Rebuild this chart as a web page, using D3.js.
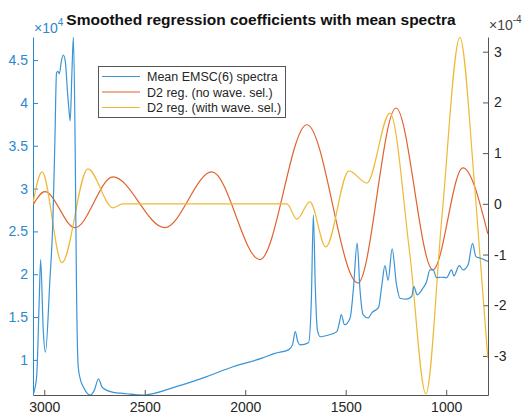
<!DOCTYPE html>
<html>
<head>
<meta charset="utf-8">
<script src="https://cdn.jsdelivr.net/npm/d3@7"></script>
<style>
  body { margin: 0; background: #fff; }
  svg { display: block; font-family: "Liberation Sans", Arial, sans-serif; }
</style>
</head>
<body>
<div id="chart"></div>
<script>
// wavenumber (cm-1), value x1e4 (left axis)
var meanSpectra = [
  [3056,0.59],[3038,0.80],[3025,1.70],[3018,2.17],[3005,1.35],[2994,1.09],[2972,1.93],[2957,2.63],
  [2947,3.57],[2939,4.35],[2932,4.37],[2925,4.34],[2914,4.50],[2905,4.56],[2895,4.48],[2885,4.15],
  [2877,3.92],[2871,3.79],[2862,4.38],[2855,4.77],[2846,3.45],[2840,1.93],[2831,0.92],[2820,0.77],
  [2806,0.685],[2788,0.615],[2770,0.59],[2750,0.65],[2730,0.78],[2713,0.685],[2693,0.65],[2640,0.615],
  [2609,0.61],[2574,0.60],[2509,0.59],[2340,0.69],[2191,0.805],[2061,0.92],[1917,1.02],[1852,1.076],
  [1783,1.12],[1765,1.175],[1751,1.33],[1738,1.21],[1726,1.175],[1685,1.20],[1671,1.70],[1661,2.69],
  [1651,1.82],[1641,1.35],[1627,1.27],[1585,1.29],[1544,1.33],[1531,1.44],[1522,1.53],[1506,1.41],
  [1478,1.49],[1462,1.82],[1443,2.365],[1429,1.82],[1413,1.525],[1388,1.49],[1370,1.55],[1337,1.61],
  [1320,1.875],[1305,2.10],[1289,1.93],[1269,2.295],[1247,1.875],[1230,1.72],[1197,1.71],[1172,1.74],
  [1161,1.855],[1144,1.76],[1115,1.84],[1098,1.91],[1081,2.05],[1065,2.05],[1048,1.96],[1023,1.965],
  [998,1.96],[973,2.05],[962,1.98],[935,2.10],[916,2.05],[891,2.11],[869,2.36],[852,2.205],
  [832,2.19],[793,2.15]
];

// regression coefficients x1e-4 (right axis)
var regNoSel = [
  [3056,-0.02],[2997,0.24],[2847,-0.47],[2658,0.53],[2400,-0.47],[2166,0.63],[1927,-1.10],
  [1693,1.56],[1439,-1.56],[1250,1.89],[1066,-1.30],[917,0.71],[793,-0.59]
];
var regWithSel = [
  [3056,0.02],[3011,0.63],[2912,-1.16],[2783,0.69],[2658,-0.08],[2609,0],[1793,0],[1743,-0.30],
  [1678,0.04],[1599,-0.85],[1484,0.65],[1395,0.41],[1280,1.79],[1181,-0.99],[1101,-3.75],
  [1021,-0.24],[932,3.28],[857,0.28],[793,-3.04]
];

var xTicks = [3000, 2500, 2000, 1500, 1000];
var yLeftTicks = [1, 1.5, 2, 2.5, 3, 3.5, 4, 4.5];
var yRightTicks = [-3, -2, -1, 0, 1, 2, 3];
var legendLabels = ["Mean EMSC(6) spectra", "D2 reg. (no wave. sel.)", "D2 reg. (with wave. sel.)"];
var chartTitle = "Smoothed regression coefficients with mean spectra";

(function () {
  var width = 524, height = 414;
  var plotL = 33, plotR = 488, plotT = 37, plotB = 395;
  var blueAxis = "#2a88cf", blue = "#3a94d6", red = "#E0632F", yellow = "#EEB934", axisGray = "#555";

  var svg = d3.select("#chart").append("svg")
      .attr("width", width)
      .attr("height", height);

  var x = d3.scaleLinear().domain([3056, 792]).range([plotL, plotR]);
  var yL = d3.scaleLinear().domain([0.59, 4.77]).range([plotB, plotT]);
  var yR = d3.scaleLinear().domain([-3.77, 3.29]).range([plotB, plotT]);

  svg.append("defs").append("clipPath").attr("id", "plotclip")
    .append("rect").attr("x", plotL).attr("y", plotT)
    .attr("width", plotR - plotL).attr("height", plotB - plotT);

  // title
  svg.append("text")
      .attr("x", 261).attr("y", 25)
      .attr("text-anchor", "middle")
      .style("font-size", "15.5px").style("font-weight", "bold").style("fill", "#111")
      .text(chartTitle);

  // axes
  var gx = svg.append("g").attr("transform", "translate(0," + plotB + ")")
      .call(d3.axisBottom(x).tickValues(xTicks).tickSizeInner(-5).tickSizeOuter(0).tickPadding(7)
        .tickFormat(function (d) { return String(d); }));
  var gl = svg.append("g").attr("transform", "translate(" + plotL + ",0)")
      .call(d3.axisLeft(yL).tickValues(yLeftTicks).tickSizeInner(-5).tickSizeOuter(0).tickPadding(5)
        .tickFormat(function (d) { return String(d); }));
  var gr = svg.append("g").attr("transform", "translate(" + plotR + ",0)")
      .call(d3.axisRight(yR).tickValues(yRightTicks).tickSizeInner(-5).tickSizeOuter(0).tickPadding(6)
        .tickFormat(function (d) { return String(d); }));

  [gx, gr].forEach(function (g) {
    g.selectAll("path, line").attr("stroke", axisGray);
    g.selectAll("text").attr("fill", "#262626").style("font-size", "14px");
  });
  gl.selectAll("path, line").attr("stroke", blueAxis);
  gl.selectAll("text").attr("fill", blueAxis).style("font-size", "14px");
  svg.selectAll("g").attr("font-family", null);

  // exponent labels
  var expL = svg.append("text").attr("x", 34).attr("y", 33).attr("fill", blueAxis).style("font-size", "14px");
  expL.append("tspan").text("\u00d710");
  expL.append("tspan").attr("dy", -7).style("font-size", "10px").text("4");

  var expR = svg.append("text").attr("x", 489).attr("y", 30).attr("fill", "#444").style("font-size", "14px");
  expR.append("tspan").text("\u00d710");
  expR.append("tspan").attr("dy", -7).style("font-size", "10px").text("-4");

  // lines
  var plot = svg.append("g").attr("clip-path", "url(#plotclip)");

  var lineR = d3.line()
      .x(function (d) { return x(d[0]); })
      .y(function (d) { return yR(d[1]); })
      .curve(d3.curveMonotoneX);
  var lineL = d3.line()
      .x(function (d) { return x(d[0]); })
      .y(function (d) { return yL(d[1]); })
      .curve(d3.curveMonotoneX);

  plot.append("path").datum(regNoSel).attr("d", lineR)
      .attr("fill", "none").attr("stroke", red).attr("stroke-width", 1.2);
  plot.append("path").datum(regWithSel).attr("d", lineR)
      .attr("fill", "none").attr("stroke", yellow).attr("stroke-width", 1.2);
  plot.append("path").datum(meanSpectra).attr("d", lineL)
      .attr("fill", "none").attr("stroke", blue).attr("stroke-width", 1.2);

  // legend
  var legend = svg.append("g");
  legend.append("rect")
      .attr("x", 98.5).attr("y", 66.5).attr("width", 187).attr("height", 51)
      .attr("fill", "#fff").attr("stroke", "#555").attr("stroke-width", 1);
  var legendColors = [blue, red, yellow];
  legendLabels.forEach(function (label, i) {
    var cy = 76.5 + i * 15.5;
    legend.append("line")
        .attr("x1", 102).attr("x2", 140).attr("y1", cy).attr("y2", cy)
        .attr("stroke", legendColors[i]).attr("stroke-width", 1.2);
    legend.append("text")
        .attr("x", 147).attr("y", cy + 4.5)
        .attr("fill", "#262626").style("font-size", "12.5px")
        .text(label);
  });
})();
</script>
</body>
</html>
